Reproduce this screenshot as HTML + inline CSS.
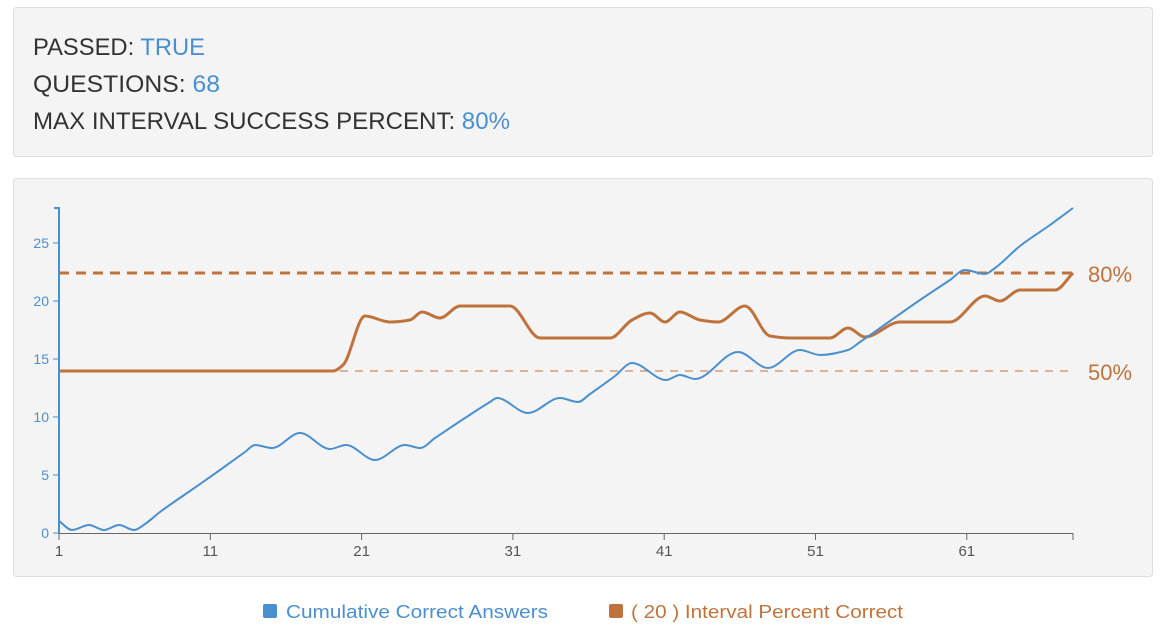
<!DOCTYPE html>
<html><head><meta charset="utf-8"><style>
html,body{margin:0;padding:0;background:#fff;width:1164px;height:634px;overflow:hidden}
svg{display:block}
text{font-family:"Liberation Sans",sans-serif}
</style></head><body>
<svg id="s" width="1164" height="634" viewBox="0 0 1164 634" xmlns="http://www.w3.org/2000/svg">
<rect x="13.5" y="7.5" width="1139" height="149" rx="3" fill="#f4f4f4" stroke="#dddddd"/>
<text x="33" y="55" font-size="24" fill="#333" textLength="172" lengthAdjust="spacingAndGlyphs">PASSED: <tspan fill="#4a8fcf">TRUE</tspan></text>
<text x="33" y="92" font-size="24" fill="#333" textLength="187" lengthAdjust="spacingAndGlyphs">QUESTIONS: <tspan fill="#4a8fcf">68</tspan></text>
<text x="33" y="129" font-size="24" fill="#333" textLength="477" lengthAdjust="spacingAndGlyphs">MAX INTERVAL SUCCESS PERCENT: <tspan fill="#4a8fcf">80%</tspan></text>

<rect x="13.5" y="178.5" width="1139" height="398" rx="3" fill="#f4f4f4" stroke="#dddddd"/>
<g id="ax"></g>
<line x1="59" y1="273" x2="1073" y2="273" stroke="#bf733c" stroke-width="3" stroke-dasharray="10,7"/>
<line x1="340" y1="371" x2="1073" y2="371" stroke="#c98a5e" stroke-width="1.3" stroke-dasharray="8,7"/>
<text x="1088" y="282" font-size="22" fill="#bf733c">80%</text>
<text x="1088" y="380" font-size="22" fill="#bf733c">50%</text>
<path id="po" fill="none" stroke="#bf733c" stroke-width="3"/>
<path id="pb" fill="none" stroke="#4a8fcf" stroke-width="2"/>

<rect x="263" y="604" width="14" height="14" rx="2" fill="#4a8fcf"/>
<text x="286" y="618" font-size="18" fill="#4a8fcf" textLength="262" lengthAdjust="spacingAndGlyphs">Cumulative Correct Answers</text>
<rect x="609" y="604" width="14" height="14" rx="2" fill="#bf733c"/>
<text x="631" y="618" font-size="18" fill="#bf733c" textLength="272" lengthAdjust="spacingAndGlyphs">( 20 ) Interval Percent Correct</text>
</svg>
<script>
var ax=document.getElementById('ax'),h='';
h+='<line x1="59" y1="207" x2="59" y2="533" stroke="#4a8fcf" stroke-width="2"/>';
h+='<line x1="54" y1="208" x2="59" y2="208" stroke="#4a8fcf" stroke-width="2"/>';
for(var v=0;v<=25;v+=5){var y=533-v*11.6;h+='<line x1="53" y1="'+y+'" x2="59" y2="'+y+'" stroke="#4a8fcf"/><text x="49" y="'+(y+5)+'" font-size="14" fill="#4a8fcf" text-anchor="end">'+v+'</text>';}
h+='<line x1="59" y1="533.5" x2="1073" y2="533.5" stroke="#666"/><line x1="1073" y1="533" x2="1073" y2="540" stroke="#666"/>';
[1,11,21,31,41,51,61].forEach(function(t){var x=59+(t-1)*15.13;h+='<line x1="'+x+'" y1="533" x2="'+x+'" y2="540" stroke="#666"/><text x="'+x+'" y="556" font-size="15" fill="#555" text-anchor="middle">'+t+'</text>';});
ax.innerHTML=h;
function mono(p){var n=p.length,dx=[],s=[],m=[];
for(var i=0;i<n-1;i++){dx[i]=p[i+1][0]-p[i][0];s[i]=(p[i+1][1]-p[i][1])/dx[i];}
m[0]=s[0];m[n-1]=s[n-2];
for(i=1;i<n-1;i++){if(s[i-1]*s[i]<=0)m[i]=0;else{var w1=2*dx[i]+dx[i-1],w2=dx[i]+2*dx[i-1];m[i]=(w1+w2)/(w1/s[i-1]+w2/s[i]);}}
var d='M'+p[0][0]+','+p[0][1];
for(i=0;i<n-1;i++){var h3=dx[i]/3;d+='C'+(p[i][0]+h3)+','+(p[i][1]+m[i]*h3)+' '+(p[i+1][0]-h3)+','+(p[i+1][1]-m[i+1]*h3)+' '+p[i+1][0]+','+p[i+1][1];}
return d;}
var B=[[59,521],[72,530],[89,525],[104,530],[119,525],[134,530],[145,524],[160,512],[190,491],[220,470],[245,452],[255,445],[272,448],[300,433],[330,449],[346,445],[375,460],[405,445],[420,448],[435,438],[465,418],[490,402],[497,398],[528,413],[560,398],[578,402],[590,394],[615,376],[632,363],[666,380],[680,375],[695,379],[738,352],[768,368],[800,350],[820,355],[848,350],[860,342],[890,321],[920,300],[950,280],[965,270],[985,274],[995,268],[1020,246],[1050,225],[1073,208]];
var O=[[59,371],[333,371],[343,365],[365,316],[390,322],[410,320],[422,312],[440,318],[460,306],[510,306],[540,338],[610,338],[632,320],[650,313],[665,322],[680,312],[700,320],[718,322],[745,306],[770,336],[790,338],[830,338],[848,328],[865,337],[900,322],[950,322],[985,296],[1000,301],[1020,290],[1055,290],[1073,273]];
document.getElementById('pb').setAttribute('d',mono(B));
document.getElementById('po').setAttribute('d',mono(O));
</script>
</body></html>
